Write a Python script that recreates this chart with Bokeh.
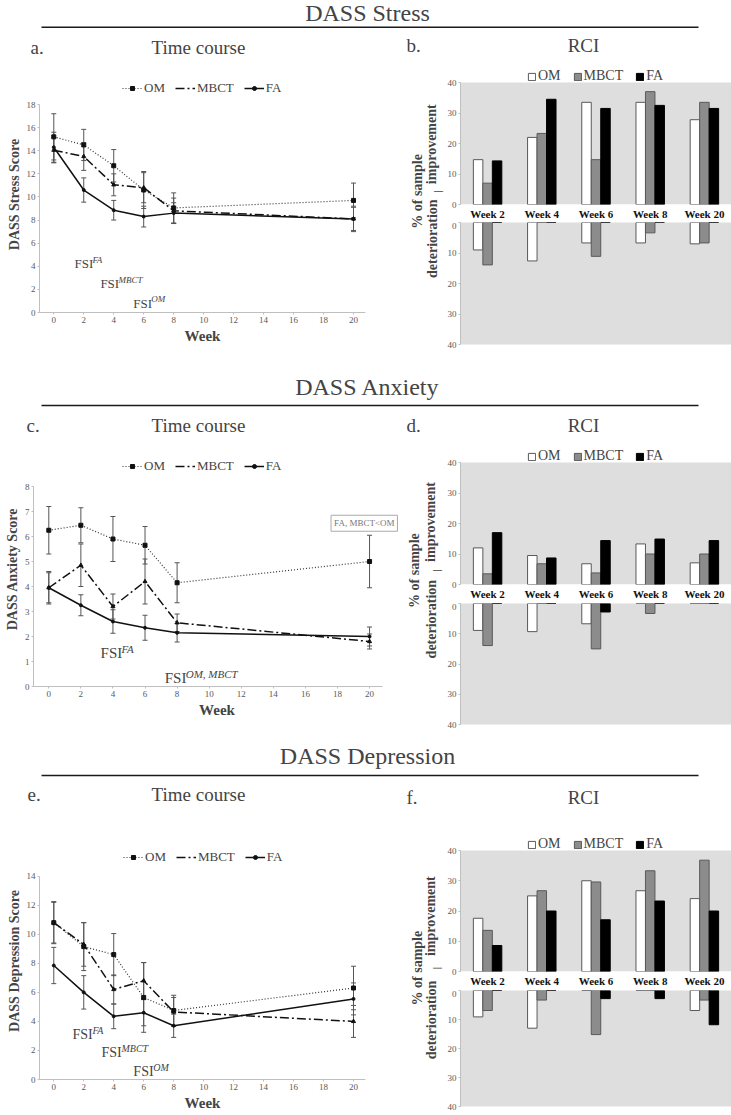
from math import pi
from bokeh.plotting import figure
from bokeh.models import (Range1d, FactorRange, Label, BoxAnnotation, Legend, LegendItem,
                          ColumnDataSource, Whisker, TeeHead, FixedTicker)
from bokeh.layouts import column, row
from bokeh.transform import dodge
from bokeh.embed import file_html
from bokeh.resources import INLINE

FONT = "Liberation Serif"

# ---------------- data ----------------
weeks = [0, 2, 4, 6, 8, 20]
week_ticks = [0, 2, 4, 6, 8, 10, 12, 14, 16, 18, 20]
rci_weeks = ["Week 2", "Week 4", "Week 6", "Week 8", "Week 20"]
groups = ["OM", "MBCT", "FA"]

# DASS Stress time course
stress_om = [15.2, 14.5, 12.7, 10.6, 9.05, 9.7]
stress_om_err = [2.0, 1.35, 1.4, 1.6, 1.3, 1.5]
stress_mbct = [14.05, 13.5, 11.05, 10.8, 8.8, 8.1]
stress_mbct_err = [1.1, 1.2, 0.95, 1.3, 1.1, 1.0]
stress_fa = [14.3, 10.6, 8.85, 8.3, 8.6, 8.1]
stress_fa_err = [1.3, 1.05, 0.85, 0.9, 0.9, 1.1]
stress_yticks = [0, 2, 4, 6, 8, 10, 12, 14, 16, 18]

# DASS Stress RCI (% of sample)
stress_imp_om = [14.7, 22.0, 33.5, 33.5, 27.8]
stress_imp_mbct = [7.0, 23.3, 14.7, 37.0, 33.5]
stress_imp_fa = [14.3, 34.5, 31.5, 32.5, 31.5]
stress_det_om = [9.0, 12.6, 6.7, 6.7, 7.0]
stress_det_mbct = [13.9, None, 11.1, 3.4, 6.7]
stress_det_fa = [None, None, None, None, None]

# DASS Anxiety time course
anx_om = [6.25, 6.45, 5.9, 5.65, 4.15, 5.0]
anx_om_err = [0.95, 0.7, 0.9, 0.75, 0.8, 1.05]
anx_mbct = [3.95, 4.85, 3.2, 4.2, 2.55, 1.8]
anx_mbct_err = [0.65, 0.85, 0.5, 0.9, 0.35, 0.3]
anx_fa = [3.95, 3.25, 2.6, 2.35, 2.15, 2.0]
anx_fa_err = [0.6, 0.42, 0.47, 0.5, 0.37, 0.38]
anx_yticks = [0, 1, 2, 3, 4, 5, 6, 7, 8]

# DASS Anxiety RCI
anx_imp_om = [12.0, 9.5, 6.8, 13.3, 7.1]
anx_imp_mbct = [3.5, 6.8, 3.8, 10.0, 10.0]
anx_imp_fa = [17.0, 8.7, 14.4, 14.9, 14.4]
anx_det_om = [8.9, 9.3, 6.7, None, None]
anx_det_mbct = [13.9, None, 15.0, 3.3, None]
anx_det_fa = [None, None, 2.8, None, None]

# DASS Depression time course
dep_om = [10.8, 9.15, 8.6, 5.65, 4.75, 6.3]
dep_om_err = [1.45, 1.65, 1.45, 2.4, 1.05, 1.5]
dep_mbct = [10.8, 9.3, 6.2, 6.8, 4.65, 4.0]
dep_mbct_err = [1.4, 1.5, 1.0, 1.25, 1.0, 1.1]
dep_fa = [7.85, 6.0, 4.35, 4.6, 3.7, 5.55]
dep_fa_err = [1.25, 1.15, 0.85, 0.9, 0.8, 1.1]
dep_yticks = [0, 2, 4, 6, 8, 10, 12, 14]

# DASS Depression RCI
dep_imp_om = [17.6, 25.0, 30.0, 26.7, 24.1]
dep_imp_mbct = [13.6, 26.7, 29.6, 33.3, 36.8]
dep_imp_fa = [8.6, 20.0, 17.1, 23.3, 20.0]
dep_det_om = [9.1, 13.0, None, None, 6.9]
dep_det_mbct = [6.9, 3.3, 15.2, None, 3.3]
dep_det_fa = [None, None, 2.8, 2.8, 11.8]

rci_ticks = [0, 10, 20, 30, 40]

GRAYTXT = "#595959"
AXCOL = "#bfbfbf"
PANEL_GRAY = "#dedede"


def new_fig(**kw):
    return figure(output_backend="svg", toolbar_location=None, **kw)


def blank(p):
    p.xaxis.visible = False
    p.yaxis.visible = False
    p.grid.visible = False
    p.outline_line_color = None


def lab(p, x, y, text, size, **kw):
    p.add_layout(Label(x=x, y=y, text=text, text_font=FONT, text_font_size=size, **kw))


def header(h, title, title_y, rule_y, lt, lt_x, lt_y, rt, rt_y):
    p = new_fig(width=731, height=h, x_range=Range1d(0, 731), y_range=Range1d(h, 0), min_border=0)
    blank(p)
    lab(p, 367, title_y, title, "24px", text_align="center", text_baseline="middle")
    p.add_layout(BoxAnnotation(left=41, right=698, top=rule_y - 0.8, bottom=rule_y + 0.8,
                               fill_color="#1a1a1a", fill_alpha=1, line_color=None))
    lab(p, lt_x, lt_y, lt, "19px", text_align="left", text_baseline="middle")
    lab(p, 198, lt_y, "Time course", "19px", text_align="center", text_baseline="middle")
    lab(p, 406, rt_y, rt, "19px", text_align="left", text_baseline="middle")
    lab(p, 583, rt_y, "RCI", "19px", text_align="center", text_baseline="middle")
    return p


def style_axis(ax):
    ax.axis_line_color = AXCOL
    ax.major_tick_line_color = AXCOL
    ax.major_tick_in = 0
    ax.major_tick_out = 2
    ax.minor_tick_line_color = None
    ax.minor_tick_in = 0
    ax.minor_tick_out = 0
    ax.major_label_text_font = FONT
    ax.major_label_text_font_size = "9px"
    ax.major_label_text_color = GRAYTXT
    ax.major_label_standoff = 2
    ax.axis_label_text_font = FONT
    ax.axis_label_text_font_style = "bold"
    ax.axis_label_standoff = 2


def time_course(width, height, xr, xbounds, ymax, ymax_ext, yticks, om, om_err, mbct, mbct_err,
                fa, fa_err, ylabel, bl, br, bt, bb, leg_xy, fsi, fsi_size, sup_size):
    p = new_fig(width=width, height=height, x_range=Range1d(*xr), y_range=Range1d(0, ymax_ext),
                min_border_left=bl, min_border_right=br, min_border_top=bt, min_border_bottom=bb)
    p.grid.visible = False
    p.outline_line_color = None
    p.xaxis.ticker = FixedTicker(ticks=week_ticks)
    p.yaxis.ticker = FixedTicker(ticks=yticks)
    p.xaxis.bounds = xbounds
    p.yaxis.bounds = (0, ymax)
    style_axis(p.xaxis[0])
    style_axis(p.yaxis[0])
    p.xaxis.axis_label = "Week"
    p.xaxis.axis_label_text_font_size = "15px"
    p.yaxis.axis_label = ylabel
    p.yaxis.axis_label_text_font_size = "14px"

    data = dict(x=weeks)
    for key, vals, errs in (("om", om, om_err), ("mbct", mbct, mbct_err), ("fa", fa, fa_err)):
        data[key] = vals
        data[key + "_lo"] = [v - e for v, e in zip(vals, errs)]
        data[key + "_hi"] = [v + e for v, e in zip(vals, errs)]
    src = ColumnDataSource(data)
    for key in ("om", "mbct", "fa"):
        p.add_layout(Whisker(source=src, base="x", lower=key + "_lo", upper=key + "_hi",
                             line_color="#555555", line_width=1,
                             upper_head=TeeHead(size=5, line_color="#555555", line_width=1),
                             lower_head=TeeHead(size=5, line_color="#555555", line_width=1)))
    r_om = p.line("x", "om", source=src, line_color="#333333", line_width=1.2, line_dash="1 2")
    m_om = p.scatter("x", "om", source=src, marker="square", size=4, fill_color="#111111", line_color="#111111")
    r_mb = p.line("x", "mbct", source=src, line_color="#111111", line_width=1.5, line_dash="9 3 2 3")
    m_mb = p.scatter("x", "mbct", source=src, marker="triangle", size=4, fill_color="#111111", line_color="#111111")
    r_fa = p.line("x", "fa", source=src, line_color="#111111", line_width=1.5)
    m_fa = p.scatter("x", "fa", source=src, marker="circle", size=3, fill_color="#111111", line_color="#111111")

    leg = Legend(items=[LegendItem(label="OM", renderers=[r_om, m_om]),
                        LegendItem(label="MBCT", renderers=[r_mb]),
                        LegendItem(label="FA", renderers=[r_fa, m_fa])],
                 orientation="horizontal", location=leg_xy, border_line_color=None,
                 background_fill_alpha=0, label_text_font=FONT, label_text_font_size="13px",
                 glyph_width=20, glyph_height=10, label_height=12, label_standoff=2, spacing=10,
                 padding=0, margin=0)
    p.add_layout(leg)

    for (x, y, sup) in fsi:
        lab(p, x, y, "FSI", fsi_size, text_align="left", text_baseline="middle")
        lab(p, x, y, sup, sup_size, text_align="left", text_baseline="middle",
            text_font_style="italic", x_offset=int(float(fsi_size[:-2]) * 1.45), y_offset=4)
    return p


def side_labels(width, height, x_pct, x_words, x_bar, y_mid, dy):
    p = new_fig(width=width, height=height, x_range=Range1d(0, width), y_range=Range1d(height, 0), min_border=0)
    blank(p)
    kw = dict(angle=pi / 2, text_align="center", text_baseline="middle", text_font_style="bold")
    lab(p, x_pct, y_mid, "% of sample", "14px", **kw)
    lab(p, x_words, y_mid - dy, "improvement", "14px", **kw)
    lab(p, x_words + 1, y_mid + dy, "deterioration", "14px", **kw)
    lab(p, x_bar, y_mid, "|", "11px", **kw)
    return p


def rci_pair(imp, det, width, ext_h, gray_h, band, fh_bot, bb, leg_x):
    xr = FactorRange(factors=rci_weeks)
    off = 0.175
    fills = ["white", "#8c8c8c", "#000000"]
    lines = ["#595959", "#595959", "#000000"]
    keys = ["om", "mbct", "fa"]
    top_ext = 40.0 * ext_h / gray_h

    top = new_fig(width=width, height=ext_h + band, x_range=xr, y_range=Range1d(0, top_ext),
                  min_border_left=16, min_border_right=0, min_border_top=0, min_border_bottom=band)
    bot = new_fig(width=width, height=fh_bot + bb, x_range=xr, y_range=Range1d(40, 0),
                  min_border_left=16, min_border_right=0, min_border_top=0, min_border_bottom=bb)
    top.add_layout(BoxAnnotation(bottom=0, top=40, fill_color=PANEL_GRAY, fill_alpha=1,
                                 line_color=None, level="underlay"))
    bot.background_fill_color = PANEL_GRAY
    src_i = ColumnDataSource(dict(week=rci_weeks, om=imp[0], mbct=imp[1], fa=imp[2]))
    src_d = ColumnDataSource(dict(week=rci_weeks, om=det[0], mbct=det[1], fa=det[2]))
    items = []
    for i, k in enumerate(keys):
        r = top.vbar(x=dodge("week", (i - 1) * off, range=xr), bottom=0, top=k, width=off, source=src_i,
                     fill_color=fills[i], line_color=lines[i], line_width=1)
        bot.vbar(x=dodge("week", (i - 1) * off, range=xr), top=0, bottom=k, width=off, source=src_d,
                 fill_color=fills[i], line_color=lines[i], line_width=1)
        items.append(LegendItem(label=groups[i], renderers=[r]))
    for p in (top, bot):
        p.border_fill_color = "white"
        p.grid.visible = False
        p.outline_line_color = None
        p.yaxis.ticker = FixedTicker(ticks=rci_ticks)
        p.yaxis.bounds = (0, 40)
        style_axis(p.yaxis[0])
    ax = top.xaxis[0]
    ax.axis_line_color = None
    ax.major_tick_line_color = None
    ax.minor_tick_line_color = None
    ax.major_tick_in = 0
    ax.major_tick_out = 0
    ax.minor_tick_in = 0
    ax.minor_tick_out = 0
    ax.major_label_text_font = FONT
    ax.major_label_text_font_style = "bold"
    ax.major_label_text_font_size = "11px"
    ax.major_label_text_color = "#111111"
    ax.major_label_standoff = 3
    bot.xaxis.visible = False
    leg = Legend(items=items, orientation="horizontal", location=(leg_x, gray_h - 2), border_line_color=None,
                 background_fill_alpha=0, label_text_font=FONT, label_text_font_size="14px",
                 glyph_width=9, glyph_height=9, label_height=12, label_standoff=2, spacing=12,
                 padding=0, margin=0)
    top.add_layout(leg)
    return column(top, bot, spacing=0)


# ---------------- Section 1: Stress (rows 0-372) ----------------
h1 = header(62, "DASS Stress", 12, 26.7, "a.", 30, 46.5, "b.", 45)
a = time_course(380, 310, (-0.953, 20.8), (-0.953, 20.8), 18, 18 * 236 / 208, stress_yticks,
                stress_om, stress_om_err, stress_mbct, stress_mbct_err, stress_fa, stress_fa_err,
                "DASS Stress Score", 39, 15, 14, 60, (83, 216),
                [(1.38, 4.21, "FA"), (3.11, 2.48, "MBCT"), (5.31, 0.8, "OM")], "13px", "9px")
s1 = side_labels(64, 310, 37, 51, 56, 151, 62)
b = rci_pair([stress_imp_om, stress_imp_mbct, stress_imp_fa],
             [stress_det_om, stress_det_mbct, stress_det_fa], 287, 142, 122, 18, 122, 28, 67)
sec1 = column(h1, row(a, s1, b, spacing=0), spacing=0)

# ---------------- Section 2: Anxiety (rows 372-741) ----------------
h2 = header(69, "DASS Anxiety", 14, 33, "c.", 26, 53, "d.", 53)
c = time_course(400, 300, (-0.954, 21.93), (-0.954, 20.8), 8, 8 * 235 / 200, anx_yticks,
                anx_om, anx_om_err, anx_mbct, anx_mbct_err, anx_fa, anx_fa_err,
                "DASS Anxiety Score", 33, 0, 10, 55, (89, 212),
                [(3.23, 1.36, "FA"), (7.23, 0.36, "OM, MBCT")], "15px", "11px")
c.add_layout(Label(x=19.67, y=6.53, text="FA, MBCT<OM", text_font=FONT, text_font_size="9px",
                   text_color="#777777", text_align="center", text_baseline="middle",
                   border_line_color="#aaaaaa", background_fill_color="white", padding=3))
s2 = side_labels(44, 300, 14, 30, 35, 152, 62)
d = rci_pair([anx_imp_om, anx_imp_mbct, anx_imp_fa],
             [anx_det_om, anx_det_mbct, anx_det_fa], 287, 143, 122, 19, 121, 17, 67)
sec2 = column(h2, row(c, s2, d, spacing=0), spacing=0)

# ---------------- Section 3: Depression (rows 741-1113) ----------------
h3 = header(89, "DASS Depression", 14.7, 34, "e.", 27, 53, "f.", 56)
e = time_course(380, 283, (-0.953, 20.8), (-0.953, 20.8), 14, 14 * 242 / 207.6, dep_yticks,
                dep_om, dep_om_err, dep_mbct, dep_mbct_err, dep_fa, dep_fa_err,
                "DASS Depression Score", 39, 15, 12, 29, (84, 214),
                [(1.25, 3.08, "FA"), (3.18, 1.84, "MBCT"), (5.31, 0.54, "OM")], "14px", "10px")
s3 = side_labels(64, 283, 37, 50, 55, 150, 62)
f = rci_pair([dep_imp_om, dep_imp_mbct, dep_imp_fa],
             [dep_det_om, dep_det_mbct, dep_det_fa], 287, 141, 121, 19, 116, 7, 67)
sec3 = column(h3, row(e, s3, f, spacing=0), spacing=0)

layout = column(sec1, sec2, sec3, spacing=0)
open("out.html", "w").write(file_html(layout, INLINE))
